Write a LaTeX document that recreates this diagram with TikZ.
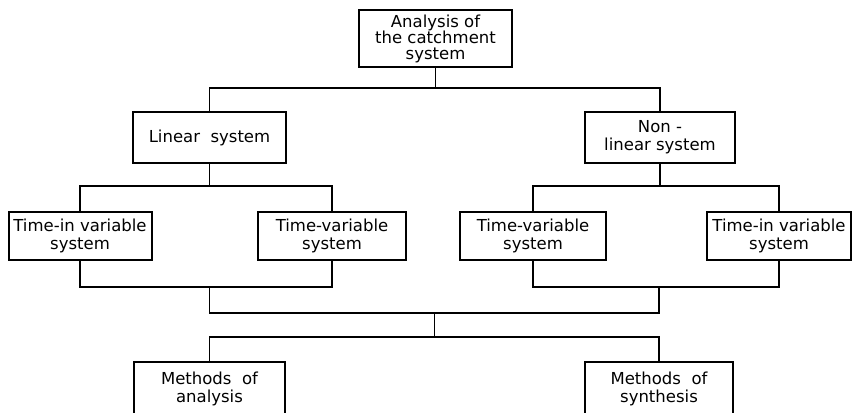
\documentclass[tikz,border=0pt]{standalone}
\usepackage{fontspec}
\setmainfont{DejaVu Sans}
\usetikzlibrary{positioning}

\begin{document}
\begin{tikzpicture}[x=1pt, y=-1pt,
    sysbox/.style={draw, line width=2pt, align=center, inner sep=0pt, font=\fontsize{16.5}{18}\selectfont},
    link/.style={line width=1.1pt}]
    \useasboundingbox (0,0) rectangle (853,412);
    \clip (0,0) rectangle (853,412);

    % boxes
    \node[sysbox, minimum width=153pt, minimum height=57pt, font=\fontsize{16.5}{16}\selectfont] (catch) at (435.5, 38.5) {Analysis of\\the catchment\\system};
    \node[sysbox, minimum width=153pt, minimum height=51pt] (lin) at (209.5, 137.5) {Linear \ system};
    \node[sysbox, minimum width=150pt, minimum height=51pt] (nonlin) at (660, 137.5) {Non -\\linear system};

    \node[sysbox, minimum width=143pt, minimum height=48pt] (tivl) at (80, 236) {Time-in variable\\system};
    \node[sysbox, minimum width=148pt, minimum height=48pt] (tvl) at (332, 236) {Time-variable\\system};
    \node[sysbox, minimum width=146pt, minimum height=48pt] (tvr) at (533, 236) {Time-variable\\system};
    \node[sysbox, minimum width=144pt, minimum height=48pt] (tivr) at (779, 236) {Time-in variable\\system};

    \node[sysbox, minimum width=151pt, minimum height=54pt] (ana) at (209.5, 389) {Methods \ of\\analysis};
    \node[sysbox, minimum width=148pt, minimum height=54pt] (syn) at (659, 389) {Methods \ of\\synthesis};

    % junctions
    \coordinate (j1) at (435.5, 88);
    \coordinate (j2l) at (209.5, 186);
    \coordinate (j2r) at (660, 186);
    \coordinate (j3l) at (209.5, 287);
    \coordinate (j3r) at (659, 287);
    \coordinate (j4l) at (209.5, 313);
    \coordinate (j4r) at (659, 313);
    \coordinate (j5) at (434.5, 313);
    \coordinate (j6) at (434.5, 337);

    % connectors
    \draw[link] (catch) -- (j1);
    \draw[link] (lin) |- (j1) -| (nonlin);
    \draw[link] (lin) -- (j2l);
    \draw[link] (tivl) |- (j2l) -| (tvl);
    \draw[link] (nonlin) -- (j2r);
    \draw[link] (tvr) |- (j2r) -| (tivr);
    \draw[link] (tivl) |- (j3l) -| (tvl);
    \draw[link] (tvr) |- (j3r) -| (tivr);
    \draw[link] (j3l) -- (j4l) -- (j4r) -- (j3r);
    \draw[link] (j5) -- (j6);
    \draw[link] (ana) |- (j6) -| (syn);
\end{tikzpicture}
\end{document}
